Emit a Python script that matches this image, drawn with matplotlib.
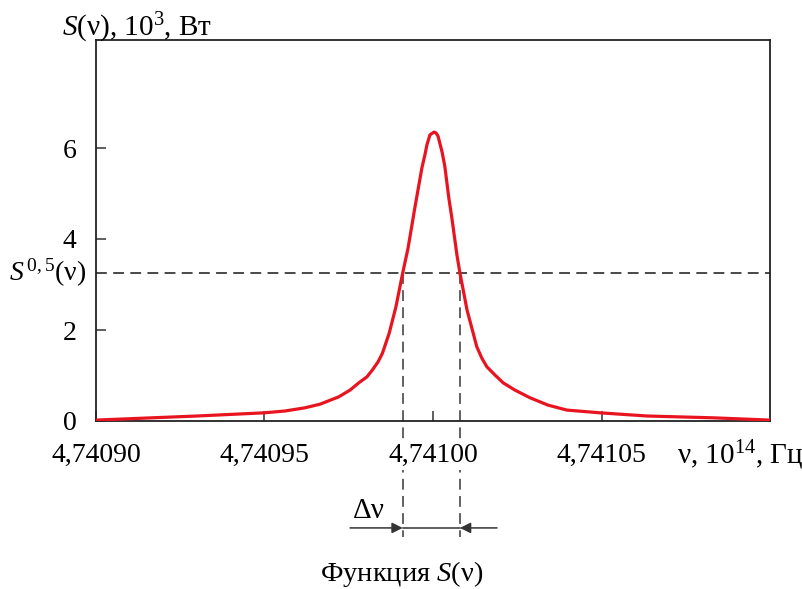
import numpy as np
import matplotlib
matplotlib.use("Agg")
import matplotlib.pyplot as plt

# fonts: Times-like serif with italic S in mathtext
plt.rcParams['font.family'] = ['Liberation Serif', 'DejaVu Serif']
plt.rcParams['mathtext.fontset'] = 'custom'
plt.rcParams['mathtext.rm'] = 'Liberation Serif'
plt.rcParams['mathtext.it'] = 'Liberation Serif:italic'

# frequency, 10^14 Hz
freq = np.array([
    4.740900, 4.740930, 4.740950, 4.7409561, 4.740962, 4.7409665, 4.740972,
    4.7409754, 4.740978, 4.7409804, 4.740982, 4.7409837, 4.740985, 4.740987,
    4.740989, 4.740991, 4.7409926, 4.7409946, 4.7409967, 4.7409976,
    4.7409982, 4.7409991, 4.7409997, 4.7410003, 4.7410009, 4.7410015,
    4.7410027, 4.7410035, 4.7410041, 4.7410047, 4.7410056, 4.7410071,
    4.7410080, 4.7410101, 4.7410130, 4.7410145, 4.7410160, 4.7410184,
    4.7410208, 4.7410243, 4.7410288, 4.7410341, 4.7410397, 4.7410495,
    4.7410635, 4.7410831, 4.7411000
])
# S(nu), 10^3 W
S = np.array([
    0.02, 0.11, 0.18, 0.22, 0.29, 0.37, 0.53,
    0.68, 0.84, 0.97, 1.12, 1.30, 1.49, 1.93,
    2.51, 3.25, 3.80, 4.68, 5.56, 5.85,
    6.07, 6.29, 6.32, 6.35, 6.33, 6.26,
    5.91, 5.60, 5.25, 4.90, 4.46, 3.65,
    3.25, 2.44, 1.63, 1.38, 1.19, 1.01,
    0.84, 0.68, 0.51, 0.35, 0.24, 0.18,
    0.11, 0.07, 0.02
])

s_half = 3.25
dv_lo = 4.740991
dv_hi = 4.741008

xticks = [4.74090, 4.74095, 4.74100, 4.74105]
xtick_labels = ['4,74090', '4,74095', '4,74100', '4,74105']
yticks = [0, 2, 4, 6]

fig = plt.figure(figsize=(8.02, 5.89), dpi=100)
ax = fig.add_axes([96/802, 1-421/589, 674/802, 381/589])

ax.plot(freq, S, color='#e8141f', lw=2.3, zorder=3, solid_joinstyle='round')

ax.set_xlim(4.74090, 4.74110)
ax.set_ylim(0, 381/45.5)

# half-level line and width markers
dash = (0, (6, 3.5))
ax.plot([4.74090, 4.74110], [s_half, s_half], color='#3a3a3a', lw=1.3, linestyle=dash, zorder=1)
for xv in (dv_lo, dv_hi):
    ax.plot([xv, xv], [s_half, -2.55], color='#555555', lw=1.3, linestyle=dash,
            clip_on=False, zorder=1)

# delta nu arrows
y_arr = -2.35
ax.annotate('', xy=(dv_lo, y_arr), xytext=(4.7409754, y_arr), annotation_clip=False,
            arrowprops=dict(arrowstyle='-|>', color='#333333', lw=1.1, mutation_scale=16,
                            shrinkA=0, shrinkB=0))
ax.annotate('', xy=(dv_hi, y_arr), xytext=(4.741019, y_arr), annotation_clip=False,
            arrowprops=dict(arrowstyle='-|>', color='#333333', lw=1.1, mutation_scale=16,
                            shrinkA=0, shrinkB=0))
ax.plot([dv_lo, dv_hi], [y_arr, y_arr], color='#333333', lw=1.1, clip_on=False)
ax.text(4.740981, -1.98, 'Δν', fontsize=21, ha='center', va='center')

ax.set_xticks(xticks)
ax.set_xticklabels(xtick_labels)
ax.set_yticks(yticks)
ax.tick_params(direction='in', length=7, width=1.1, labelsize=20, color='#333333')
ax.tick_params(axis='x', pad=16)
ax.tick_params(axis='y', pad=14)
for lbl in ax.get_xticklabels():
    lbl.set_bbox(dict(facecolor='white', edgecolor='none', pad=1))
for sp in ax.spines.values():
    sp.set_linewidth(1.3)
    sp.set_color('#222222')

# labels
fig.text(62/802, 1-28/589, r'$S$(ν), 10$^3$, Вт', fontsize=21, ha='left', va='center')
fig.text(9/802, 1-273/589, r'$S^{\,0,5}$(ν)', fontsize=20, ha='left', va='center')
fig.text(677/802, 1-455/589, r'ν, 10$^{14}$, Гц', fontsize=21, ha='left', va='center')
fig.text(402/802, 1-574/589, r'Функция $S$(ν)', fontsize=20.5, ha='center', va='center')

fig.savefig('out.png', dpi=100)
